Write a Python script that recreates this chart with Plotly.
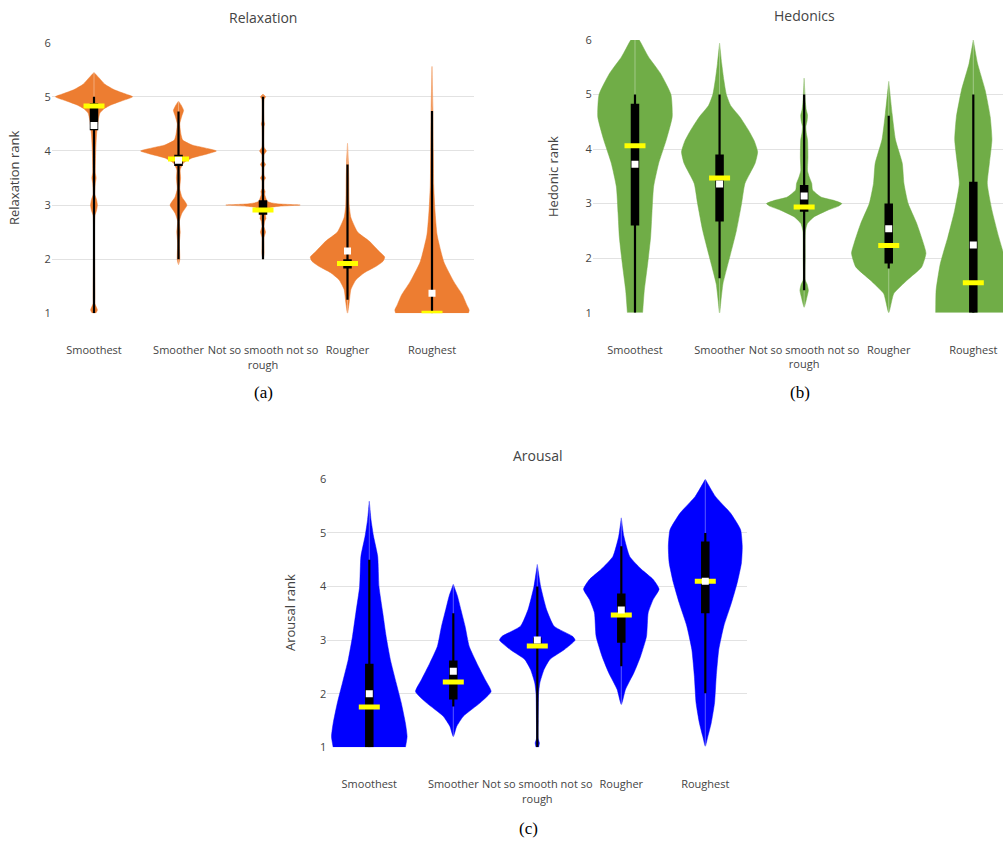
import plotly.graph_objects as go

CATEGORIES = ["Smoothest", "Smoother", "Not so smooth not so<br>rough", "Rougher", "Roughest"]
TICKS_Y = [1, 2, 3, 4, 5, 6]

# ---------- Relaxation (a): violin density profiles (rank level, half-width) ----------
RELAX_PROFILE_Y = [
    [1.0, 1.06, 1.18, 1.3, 2.8, 2.9, 3.0, 3.1, 3.2, 3.4, 3.5, 3.6, 4.0, 4.3, 4.57, 4.7, 4.78, 4.85, 4.92, 5.0, 5.06, 5.13, 5.23, 5.35, 5.45],
    [1.9, 2.0, 2.3, 2.5, 2.7, 2.85, 3.0, 3.15, 3.3, 3.5, 3.65, 3.78, 3.87, 3.94, 4.0, 4.06, 4.11, 4.2, 4.3, 4.5, 4.65, 4.75, 4.85, 4.92],
    [2.0, 2.1, 2.4, 2.5, 2.6, 2.7, 2.75, 2.8, 2.92, 2.96, 2.98, 3.0, 3.02, 3.04, 3.07, 3.2, 3.25, 3.3, 3.45, 3.5, 3.55, 3.7, 3.75, 3.8, 3.93, 4.0, 4.07, 4.45, 4.5, 4.55, 4.95, 5.0, 5.05],
    [1.0, 1.2, 1.44, 1.62, 1.75, 1.87, 1.96, 2.04, 2.15, 2.33, 2.5, 2.77, 3.0, 3.5, 3.8, 4.14],
    [1.0, 1.06, 1.16, 1.34, 1.58, 1.95, 2.45, 2.9, 3.37, 4.0, 4.8, 5.56],
]
RELAX_PROFILE_W = [
    [0.02, 0.04, 0.01, 0.01, 0.01, 0.03, 0.04, 0.03, 0.01, 0.015, 0.025, 0.015, 0.02, 0.03, 0.05, 0.07, 0.12, 0.2, 0.32, 0.457, 0.36, 0.24, 0.13, 0.06, 0.0],
    [0.0, 0.015, 0.01, 0.02, 0.01, 0.04, 0.1, 0.04, 0.015, 0.025, 0.02, 0.06, 0.16, 0.33, 0.448, 0.3, 0.16, 0.05, 0.03, 0.015, 0.04, 0.06, 0.03, 0.0],
    [0.0, 0.012, 0.012, 0.03, 0.012, 0.02, 0.035, 0.03, 0.05, 0.1, 0.2, 0.44, 0.2, 0.1, 0.05, 0.02, 0.025, 0.012, 0.012, 0.03, 0.012, 0.012, 0.03, 0.012, 0.012, 0.04, 0.012, 0.012, 0.02, 0.012, 0.012, 0.03, 0.0],
    [0.0, 0.02, 0.04, 0.1, 0.2, 0.34, 0.42, 0.44, 0.37, 0.26, 0.12, 0.04, 0.02, 0.015, 0.01, 0.0],
    [0.43, 0.44, 0.41, 0.36, 0.26, 0.14, 0.06, 0.035, 0.02, 0.015, 0.01, 0.0],
]
RELAX_LO = [1.0, 2.0, 2.0, 1.25, 1.0]
RELAX_HI = [5.0, 4.73, 5.0, 3.75, 4.74]
RELAX_Q1 = [4.38, 3.72, 2.82, 1.83, 1.0]
RELAX_Q3 = [4.88, 3.93, 3.09, 2.0, 1.0]
RELAX_MED = [4.83, 3.85, 2.91, 1.92, 1.0]
RELAX_MEAN = [4.47, 3.83, None, 2.15, 1.37]

# ---------- Hedonics (b) ----------
HEDON_PROFILE_Y = [
    [1.0, 1.41, 1.9, 2.39, 2.82, 3.31, 3.74, 4.17, 4.59, 5.0, 5.39, 5.69, 6.0, 6.1],
    [0.98, 1.2, 1.53, 2.02, 2.51, 3.0, 3.37, 3.74, 3.95, 4.15, 4.35, 4.59, 4.8, 5.0, 5.27, 5.57, 5.94],
    [1.1, 1.3, 1.41, 1.52, 1.6, 2.0, 2.5, 2.64, 2.76, 2.88, 2.95, 3.0, 3.06, 3.12, 3.25, 3.37, 3.49, 3.6, 3.85, 4.17, 4.3, 4.41, 4.52, 4.62, 4.72, 4.85, 5.3],
    [1.0, 1.35, 1.6, 1.84, 2.09, 2.27, 2.64, 3.0, 3.37, 3.74, 4.17, 4.65, 5.24],
    [1.0, 1.41, 1.9, 2.39, 2.88, 3.37, 3.74, 4.17, 4.59, 5.08, 5.57, 6.0],
]
HEDON_PROFILE_W = [
    [0.09, 0.11, 0.15, 0.185, 0.2, 0.22, 0.28, 0.37, 0.44, 0.425, 0.3, 0.16, 0.05, 0.0],
    [0.0, 0.015, 0.04, 0.12, 0.2, 0.26, 0.3, 0.42, 0.45, 0.41, 0.34, 0.24, 0.13, 0.08, 0.05, 0.025, 0.0],
    [0.0, 0.035, 0.05, 0.035, 0.012, 0.012, 0.015, 0.04, 0.12, 0.28, 0.4, 0.445, 0.35, 0.2, 0.1, 0.09, 0.06, 0.04, 0.045, 0.04, 0.025, 0.02, 0.035, 0.04, 0.025, 0.015, 0.0],
    [0.0, 0.06, 0.22, 0.39, 0.44, 0.41, 0.33, 0.23, 0.18, 0.16, 0.08, 0.04, 0.0],
    [0.445, 0.44, 0.39, 0.3, 0.22, 0.165, 0.19, 0.22, 0.2, 0.14, 0.05, 0.0],
]
HEDON_LO = [1.0, 1.63, 1.41, 1.81, 1.0]
HEDON_HI = [5.0, 5.0, 5.0, 4.61, 5.0]
HEDON_Q1 = [2.6, 2.67, 2.85, 1.9, 1.0]
HEDON_Q3 = [4.83, 3.9, 3.34, 3.0, 3.4]
HEDON_MED = [4.06, 3.47, 2.94, 2.23, 1.55]
HEDON_MEAN = [3.72, 3.36, 3.14, 2.54, 2.24]

# ---------- Arousal (c) ----------
AROUS_PROFILE_Y = [
    [1.0, 1.2, 1.45, 1.83, 2.2, 2.64, 3.07, 3.51, 4.0, 4.56, 4.94, 5.25, 5.59],
    [1.2, 1.39, 1.58, 1.83, 2.04, 2.26, 2.57, 2.88, 3.26, 3.57, 3.82, 4.04],
    [1.0, 1.08, 1.16, 1.5, 2.0, 2.2, 2.45, 2.64, 2.82, 3.0, 3.07, 3.26, 3.57, 4.0, 4.41],
    [1.8, 2.08, 2.39, 2.7, 3.07, 3.51, 3.76, 3.95, 4.13, 4.32, 4.56, 4.94, 5.28],
    [1.02, 1.2, 1.45, 1.83, 2.32, 2.82, 3.26, 3.69, 4.07, 4.44, 4.75, 5.06, 5.37, 5.68, 6.0],
]
AROUS_PROFILE_W = [
    [0.43, 0.45, 0.43, 0.38, 0.32, 0.25, 0.2, 0.16, 0.115, 0.1, 0.05, 0.02, 0.0],
    [0.0, 0.04, 0.12, 0.32, 0.45, 0.38, 0.28, 0.19, 0.14, 0.09, 0.05, 0.0],
    [0.015, 0.025, 0.01, 0.01, 0.015, 0.03, 0.08, 0.15, 0.32, 0.45, 0.42, 0.2, 0.11, 0.04, 0.0],
    [0.0, 0.05, 0.15, 0.23, 0.3, 0.32, 0.38, 0.45, 0.38, 0.24, 0.1, 0.03, 0.0],
    [0.0, 0.03, 0.07, 0.11, 0.13, 0.16, 0.22, 0.31, 0.38, 0.43, 0.44, 0.42, 0.3, 0.12, 0.0],
]
AROUS_LO = [1.0, 1.76, 1.0, 2.51, 2.01]
AROUS_HI = [4.5, 3.5, 4.0, 4.75, 5.0]
AROUS_Q1 = [1.0, 1.89, 2.85, 2.95, 3.5]
AROUS_Q3 = [2.56, 2.62, 3.05, 3.87, 4.84]
AROUS_MED = [1.75, 2.22, 2.89, 3.47, 4.1]
AROUS_MEAN = [2.0, 2.42, 3.0, 3.56, 4.1]

PANELS = [
    dict(xa="x", ya="y", color="#ED7D31", py=RELAX_PROFILE_Y, pw=RELAX_PROFILE_W,
         lo=RELAX_LO, hi=RELAX_HI, q1=RELAX_Q1, q3=RELAX_Q3, med=RELAX_MED, mean=RELAX_MEAN),
    dict(xa="x2", ya="y2", color="#70AD47", py=HEDON_PROFILE_Y, pw=HEDON_PROFILE_W,
         lo=HEDON_LO, hi=HEDON_HI, q1=HEDON_Q1, q3=HEDON_Q3, med=HEDON_MED, mean=HEDON_MEAN),
    dict(xa="x3", ya="y3", color="#0000FF", py=AROUS_PROFILE_Y, pw=AROUS_PROFILE_W,
         lo=AROUS_LO, hi=AROUS_HI, q1=AROUS_Q1, q3=AROUS_Q3, med=AROUS_MED, mean=AROUS_MEAN),
]

fig = go.Figure()


def pairs(a, b):
    xs, ys = [], []
    for i, (u, v) in enumerate(zip(a, b)):
        xs += [i, i, None]
        ys += [u, v, None]
    return xs, ys


for p in PANELS:
    for i, (ys, ws) in enumerate(zip(p["py"], p["pw"])):
        xs = [i + w for w in ws] + [i - w for w in reversed(ws)]
        yy = list(ys) + list(reversed(ys))
        fig.add_trace(go.Scatter(
            x=xs, y=yy, mode="lines", fill="toself", fillcolor=p["color"],
            line=dict(color=p["color"], width=0.5, shape="spline", smoothing=0.5),
            xaxis=p["xa"], yaxis=p["ya"], hoverinfo="skip", showlegend=False))
    # faint centre line along each violin's full span (under the whiskers)
    cx, cy = pairs([min(y) for y in p["py"]], [max(y) for y in p["py"]])
    fig.add_trace(go.Scatter(x=cx, y=cy, mode="lines", line=dict(color="rgba(255,255,255,0.35)", width=1),
                             xaxis=p["xa"], yaxis=p["ya"], hoverinfo="skip", showlegend=False))
    # whiskers
    wx, wy = pairs(p["lo"], p["hi"])
    fig.add_trace(go.Scatter(x=wx, y=wy, mode="lines", line=dict(color="black", width=2.2),
                             xaxis=p["xa"], yaxis=p["ya"], hoverinfo="skip", showlegend=False))
    # inter-quartile boxes
    bx, by = pairs(p["q1"], p["q3"])
    fig.add_trace(go.Scatter(x=bx, y=by, mode="lines", line=dict(color="black", width=8.5),
                             xaxis=p["xa"], yaxis=p["ya"], hoverinfo="skip", showlegend=False))
    # medians
    fig.add_trace(go.Scatter(x=list(range(5)), y=p["med"], mode="markers",
                             marker=dict(symbol="line-ew", size=15, line=dict(width=5, color="#FFFF00")),
                             xaxis=p["xa"], yaxis=p["ya"], hoverinfo="skip", showlegend=False))
    # means
    fig.add_trace(go.Scatter(x=list(range(5)), y=p["mean"], mode="markers",
                             marker=dict(symbol="square", size=7, color="white", line=dict(width=0)),
                             xaxis=p["xa"], yaxis=p["ya"], hoverinfo="skip", showlegend=False))

W, H = 1003, 843
TICKFONT = dict(family="Open Sans, Arial, sans-serif", size=11, color="#444")


def xax(domain, rng):
    return dict(domain=domain, range=rng, tickmode="array", tickvals=list(range(5)), ticktext=CATEGORIES,
                showgrid=False, zeroline=False, showline=False, ticks="", tickfont=TICKFONT,
                ticklabelstandoff=29, fixedrange=True, automargin=False)


def yax(domain):
    return dict(domain=domain, range=[1, 6], tickmode="array", tickvals=TICKS_Y, showgrid=True,
                gridcolor="#e2e2e2", gridwidth=1, zeroline=False, showline=False, ticks="",
                tickfont=TICKFONT, fixedrange=True, automargin=False)


xb_end = 4 + (1003 - 973.3) / 84.6

fig.update_layout(
    width=W, height=H, margin=dict(l=0, r=0, t=0, b=0, pad=0), autosize=False,
    paper_bgcolor="white", plot_bgcolor="white", showlegend=False,
    xaxis=dict(xax([51.75 / W, 474.25 / W], [-0.5, 4.5]), anchor="y"),
    yaxis=dict(yax([1 - 313.3 / H, 1 - 42.7 / H]), anchor="x"),
    xaxis2=dict(xax([592.7 / W, 1.0], [-0.5, xb_end]), anchor="y2"),
    yaxis2=dict(yax([1 - 312.7 / H, 1 - 40 / H]), anchor="x2"),
    xaxis3=dict(xax([327.3 / W, 747.3 / W], [-0.5, 4.5]), anchor="y3"),
    yaxis3=dict(yax([1 - 747.3 / H, 1 - 479.3 / H]), anchor="x3"),
)

TITLE_FONT = dict(family="Open Sans, Arial, sans-serif", size=14, color="#444")
YT_FONT = dict(family="Open Sans, Arial, sans-serif", size=13, color="#444")
CAP_FONT = dict(family="Liberation Serif, Times New Roman, serif", size=17, color="black")

ann = [
    ("Relaxation", 263, 17, TITLE_FONT, 0),
    ("Hedonics", 804, 15, TITLE_FONT, 0),
    ("Arousal", 538, 455, TITLE_FONT, 0),
    ("Relaxation rank", 14, 178, YT_FONT, -90),
    ("Hedonic rank", 553, 177, YT_FONT, -90),
    ("Arousal rank", 290, 613, YT_FONT, -90),
    ("(a)", 263, 393, CAP_FONT, 0),
    ("(b)", 800, 393, CAP_FONT, 0),
    ("(c)", 528, 828, CAP_FONT, 0),
]
for text, px, py, font, ang in ann:
    fig.add_annotation(text=text, x=px / W, y=1 - py / H, xref="paper", yref="paper",
                       xanchor="center", yanchor="middle", showarrow=False, font=font, textangle=ang)

fig.write_html("out.html", config={"displayModeBar": False},
               post_script="document.body.style.margin='0px';document.body.style.overflow='hidden';")
